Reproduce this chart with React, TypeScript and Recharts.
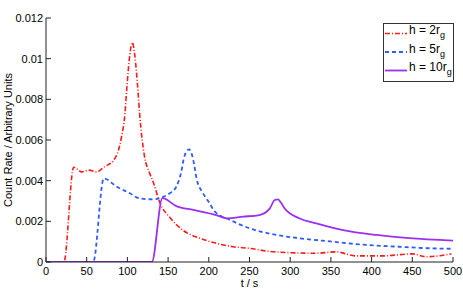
import React from 'react';
import { LineChart, Line, XAxis, YAxis, Legend } from 'recharts';

const FONT = '"Liberation Sans", Arial, sans-serif';

// time (s) and count rate for each source height
const tH2 = [0, 22, 34, 44, 53, 62, 72, 83, 89, 93, 97, 99, 101, 103, 106, 109, 111, 113, 115, 121, 127, 132, 140, 152, 168, 189, 209, 230, 250, 271, 299, 332, 356, 381, 413, 450, 467, 498];
const vH2 = [0, 0, 0.00466, 0.00443, 0.00452, 0.00443, 0.00469, 0.005, 0.0055, 0.0062, 0.0073, 0.0084, 0.0094, 0.0102, 0.0108, 0.0102, 0.0094, 0.0084, 0.0073, 0.0052, 0.0044, 0.0039, 0.0029, 0.0022, 0.00157, 0.00117, 0.00092, 0.00075, 0.00067, 0.00054, 0.00046, 0.00043, 0.0005, 0.0003, 0.0003, 0.0004, 0.00026, 0.0004];

const tH5 = [0, 58, 71, 87, 103, 115, 131, 144, 152, 160, 166, 170, 176, 181, 185, 193, 201, 207, 226, 250, 283, 311, 352, 393, 434, 475, 500];
const vH5 = [0, 0, 0.00411, 0.0037, 0.00338, 0.00313, 0.00308, 0.0032, 0.00338, 0.0037, 0.0044, 0.0052, 0.00554, 0.005, 0.0041, 0.00338, 0.00289, 0.0025, 0.00207, 0.00166, 0.00133, 0.00117, 0.001, 0.00084, 0.00075, 0.00067, 0.00065];

const tH10 = [0, 130, 143, 160, 181, 209, 222, 242, 262, 275, 281, 285, 289, 293, 311, 332, 365, 406, 446, 500];
const vH10 = [0, 0, 0.00314, 0.00275, 0.00256, 0.00231, 0.00215, 0.00223, 0.00231, 0.00264, 0.00305, 0.00308, 0.0029, 0.00264, 0.00215, 0.0019, 0.00157, 0.00133, 0.00117, 0.00105];

const xTicks = [0, 50, 100, 150, 200, 250, 300, 350, 400, 450, 500];
const yTicks = [0, 0.002, 0.004, 0.006, 0.008, 0.01, 0.012];

const toPoints = (t: number[], v: number[]) => t.map((x, i) => ({ t: x, v: v[i] }));

const SERIES = [
  { key: 'h2', label: 'h = 2r', data: toPoints(tH2, vH2), color: '#ff1a1a', dash: '5 2 1 2', width: 1.6 },
  { key: 'h5', label: 'h = 5r', data: toPoints(tH5, vH5), color: '#2f5bff', dash: '4 3', width: 1.8 },
  { key: 'h10', label: 'h = 10r', data: toPoints(tH10, vH10), color: '#9b30ef', dash: undefined, width: 1.8 },
];

const LegendBox = () => (
  <svg width={71} height={59} style={{ display: 'block' }}>
    <rect x={0.5} y={0.5} width={70} height={58} fill="#fff" stroke="#333" />
    {SERIES.map((s, i) => {
      const y = 10.5 + i * 18.5;
      return (
        <g key={s.key}>
          <line x1={2} x2={24} y1={y} y2={y} stroke={s.color} strokeWidth={s.width} strokeDasharray={s.dash} />
          <text x={26} y={y + 0.5} fontSize={12} fontFamily={FONT} fill="#000">
            {s.label}
            <tspan dy={4} fontSize={9}>g</tspan>
          </text>
        </g>
      );
    })}
  </svg>
);

const tickStyle = { fill: '#000', fontSize: 11, fontFamily: FONT };

export default function App() {
  return (
    <div style={{ position: 'absolute', left: 0, top: 0, background: '#fff' }}>
      <LineChart width={463} height={299} margin={{ top: 18, right: 10, bottom: 7, left: 0 }}>
        <XAxis
          xAxisId="b"
          dataKey="t"
          type="number"
          domain={[0, 500]}
          ticks={xTicks}
          allowDataOverflow
          height={30}
          stroke="#222"
          tickSize={-5}
          tickMargin={10}
          tick={tickStyle}
          label={{ value: 't / s', position: 'insideBottom', offset: 5, style: { fill: '#000', fontSize: 11, fontFamily: FONT } }}
        />
        <XAxis
          xAxisId="top"
          orientation="top"
          dataKey="t"
          type="number"
          domain={[0, 500]}
          ticks={xTicks}
          height={0}
          stroke="#222"
          tickSize={-5}
          tick={false}
        />
        <YAxis
          yAxisId="l"
          type="number"
          domain={[0, 0.012]}
          ticks={yTicks}
          allowDataOverflow
          width={46}
          stroke="#222"
          tickSize={-5}
          tickMargin={8}
          tick={tickStyle}
          label={{
            value: 'Count Rate / Arbitrary Units',
            angle: -90,
            position: 'insideLeft',
            offset: 8,
            style: { textAnchor: 'middle', fill: '#000', fontSize: 11, fontFamily: FONT },
          }}
        />
        <YAxis
          yAxisId="r"
          orientation="right"
          type="number"
          domain={[0, 0.012]}
          ticks={yTicks}
          width={0}
          stroke="#222"
          tickSize={-5}
          tick={false}
        />
        {SERIES.map((s) => (
          <Line
            key={s.key}
            xAxisId="b"
            yAxisId="l"
            data={s.data}
            dataKey="v"
            type="monotone"
            stroke={s.color}
            strokeWidth={s.width}
            strokeDasharray={s.dash}
            dot={false}
            isAnimationActive={false}
          />
        ))}
        <Legend
          layout="horizontal"
          align="center"
          verticalAlign="middle"
          content={() => <LegendBox />}
          wrapperStyle={{ left: 383, top: 23, width: 71, height: 59 }}
        />
      </LineChart>
    </div>
  );
}
